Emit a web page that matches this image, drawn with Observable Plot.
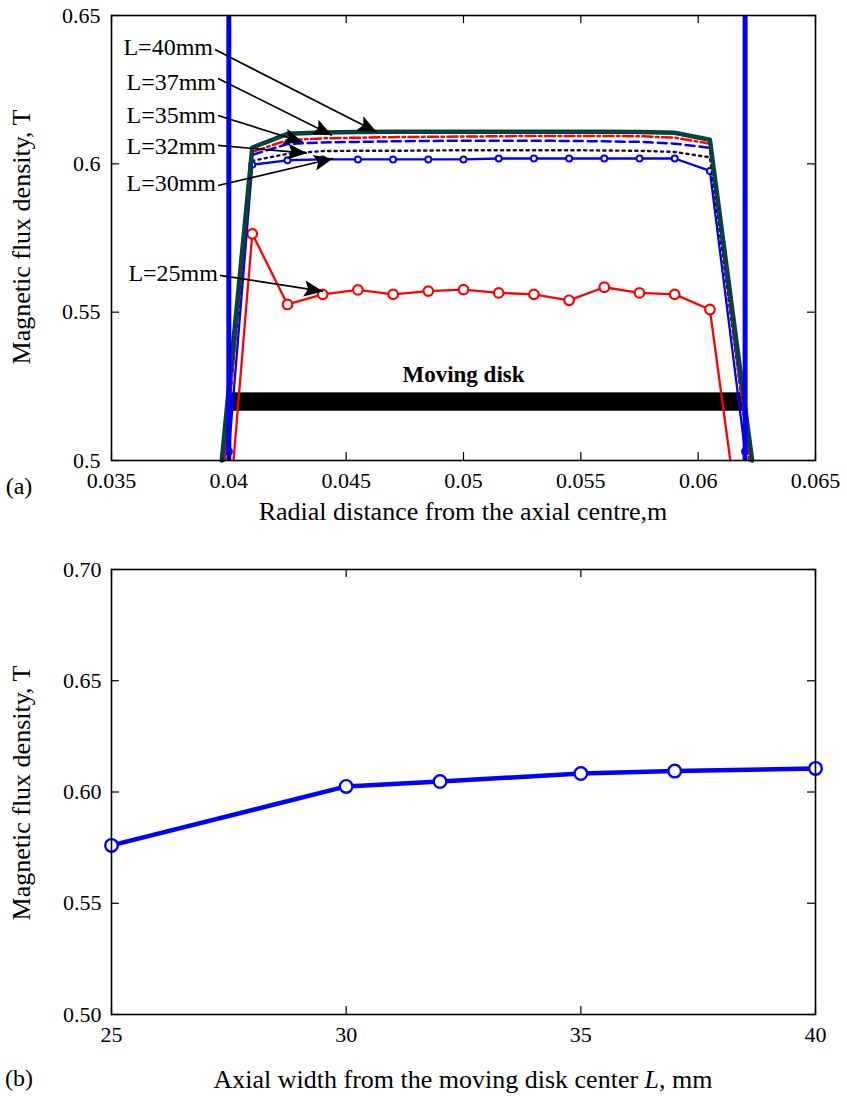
<!DOCTYPE html>
<html><head><meta charset="utf-8">
<script src="https://cdn.jsdelivr.net/npm/d3@7"></script>
<script src="https://cdn.jsdelivr.net/npm/@observablehq/plot@0.6"></script>
<style>
body{margin:0;background:#fff;}
#wrap{position:relative;width:847px;height:1098px;font-family:'Liberation Serif','Times New Roman',serif;color:#000;overflow:hidden;}
#wrap svg text{font-family:'Liberation Serif','Times New Roman',serif !important;}
.t{position:absolute;white-space:nowrap;transform:translate(-50%,-50%);line-height:1;}
.rot{transform:translate(-50%,-50%) rotate(-90deg);}
</style></head><body><div id="wrap"></div>
<script>
// ---------- Panel (a) data ----------
const xTicksA = [0.035, 0.04, 0.045, 0.05, 0.055, 0.06, 0.065];
const xTickLabelsA = ["0.035", "0.04", "0.045", "0.05", "0.055", "0.06", "0.065"];
const yTicksA = [0.5, 0.55, 0.6, 0.65];
const yTickLabelsA = ["0.5", "0.55", "0.6", "0.65"];

const xGrid = [0.041, 0.0425, 0.044, 0.0455, 0.047, 0.0485, 0.05, 0.0515, 0.053, 0.0545, 0.056, 0.0575, 0.059, 0.0605];
const L25 = [0.5764, 0.5526, 0.5560, 0.5575, 0.5560, 0.5571, 0.5576, 0.5565, 0.5560, 0.5540, 0.5584, 0.5565, 0.5560, 0.5509];
const L30 = [0.5997, 0.6012, 0.6015, 0.6015, 0.6015, 0.6015, 0.6015, 0.6018, 0.6018, 0.6018, 0.6018, 0.6018, 0.6018, 0.5976];
const L32 = [0.6010, 0.6034, 0.6043, 0.6044, 0.6044, 0.6045, 0.6046, 0.6046, 0.6046, 0.6046, 0.6045, 0.6044, 0.6040, 0.6022];
const L35 = [0.6030, 0.6067, 0.6072, 0.6074, 0.6076, 0.6077, 0.6078, 0.6078, 0.6078, 0.6077, 0.6076, 0.6074, 0.6068, 0.6054];
const L37 = [0.6040, 0.6080, 0.6086, 0.6088, 0.6090, 0.6091, 0.6092, 0.6093, 0.6094, 0.6094, 0.6094, 0.6093, 0.6088, 0.6068];
const L40 = [0.6055, 0.6101, 0.6106, 0.6107, 0.6108, 0.6108, 0.6108, 0.6108, 0.6108, 0.6108, 0.6108, 0.6107, 0.6105, 0.6081];
// end points of each curve (where the curves leave the plotted range)
const endX25 = [0.0402, 0.06137], endY25 = [0.5, 0.5];
const endX30 = [0.0400, 0.0620], endY30 = [0.503, 0.503];
const endXmid = [0.0398, 0.0622], endYmid = [0.5, 0.5];
const endX40 = [0.0397, 0.0623], endY40 = [0.5, 0.5];

const boundaryX = [0.04, 0.062];          // thick blue vertical lines
const diskX = [0.04, 0.062], diskY = [0.5166, 0.5228];
const diskLabel = "Moving disk", diskLabelX = 0.05, diskLabelY = 0.5288;

const annLabels = ["L=40mm", "L=37mm", "L=35mm", "L=32mm", "L=30mm", "L=25mm"];
const annStartX = [0.03941, 0.03954, 0.03954, 0.03954, 0.03954, 0.03962];
const annStartY = [0.6385, 0.6288, 0.6163, 0.6062, 0.5927, 0.5624];
const annTextY  = [0.6392, 0.6275, 0.6163, 0.6058, 0.5934, 0.5630];
const annTipX   = [0.04630, 0.04439, 0.04316, 0.04332, 0.04444, 0.04402];
const annTipY   = [0.6107, 0.6096, 0.6073, 0.6036, 0.6018, 0.5570];

// ---------- Panel (b) data ----------
const widthL = [25, 30, 32, 35, 37, 40];
const fluxB = [0.576, 0.6025, 0.6047, 0.6083, 0.6094, 0.6106];
const xTicksB = [25, 30, 35, 40];
const xTickLabelsB = ["25", "30", "35", "40"];
const yTicksB = [0.5, 0.55, 0.6, 0.65, 0.7];
const yTickLabelsB = ["0.50", "0.55", "0.60", "0.65", "0.70"];

// ---------- helpers ----------
const wrap = document.getElementById("wrap");
const serif = "'Liberation Serif','Times New Roman',serif";
const lab = (ticks, labels) => { const m = new Map(ticks.map((t, i) => [t, labels[i]])); return d => m.get(d) ?? ""; };
const series = (xs, ys, ex, ey) => [{x: ex[0], y: ey[0]}, ...xs.map((x, i) => ({x, y: ys[i]})), {x: ex[1], y: ey[1]}];
const pts = (xs, ys) => xs.map((x, i) => ({x, y: ys[i]}));

const W = 847;
const A = {top: 0, h: 540, mt: 15, mb: 80, ml: 111, mr: 32, xd: [0.035, 0.065], yd: [0.5, 0.65]};
const B = {top: 540, h: 558, mt: 29, mb: 84, ml: 111, mr: 32, xd: [25, 40], yd: [0.5, 0.7]};
const TL = 8; // inward tick length

function tickMarks(P, xt, yt) {
  const fw = W - P.ml - P.mr, fh = P.h - P.mt - P.mb;
  return [
    Plot.ruleX(xt, {stroke: "black", strokeWidth: 1.2, insetTop: fh - TL}),
    Plot.ruleX(xt, {stroke: "black", strokeWidth: 1.2, insetBottom: fh - TL}),
    Plot.ruleY(yt, {stroke: "black", strokeWidth: 1.2, insetRight: fw - TL}),
    Plot.ruleY(yt, {stroke: "black", strokeWidth: 1.2, insetLeft: fw - TL})
  ];
}

// arrowhead symbol (filled, notched back), tip at origin pointing up
const arrowSym = {draw(ctx) { const L = 19, w = 16; ctx.moveTo(0, 0); ctx.lineTo(-w / 2, L); ctx.lineTo(0, L * 0.8); ctx.lineTo(w / 2, L); ctx.closePath(); }};
const fwA = W - A.ml - A.mr, fhA = A.h - A.mt - A.mb;
const ann = annLabels.map((l, i) => {
  const dx = (annTipX[i] - annStartX[i]) / (A.xd[1] - A.xd[0]) * fwA;
  const dy = -(annTipY[i] - annStartY[i]) / (A.yd[1] - A.yd[0]) * fhA;
  return {label: l, sx: annStartX[i], sy: annStartY[i], ty: annTextY[i], ex: annTipX[i], ey: annTipY[i], rot: Math.atan2(dx, -dy) * 180 / Math.PI};
});

const style = {fontFamily: serif, fontSize: "22px", background: "transparent", color: "black", overflow: "visible"};

// ---------- Panel (a) ----------
const pa = Plot.plot({
  width: W, height: A.h, marginTop: A.mt, marginBottom: A.mb, marginLeft: A.ml, marginRight: A.mr,
  style,
  x: {domain: A.xd, ticks: xTicksA, tickFormat: lab(xTicksA, xTickLabelsA), tickSize: 0, tickPadding: 12, label: null},
  y: {domain: A.yd, ticks: yTicksA, tickFormat: lab(yTicksA, yTickLabelsA), tickSize: 0, tickPadding: 11, label: null},
  marks: [
    Plot.rect([0], {x1: () => diskX[0], x2: () => diskX[1], y1: () => diskY[0], y2: () => diskY[1], fill: "black"}),
    Plot.text([diskLabel], {x: () => diskLabelX, y: () => diskLabelY, text: d => d, fontWeight: "bold", fontSize: 23, fontFamily: serif}),
    Plot.line(series(xGrid, L25, endX25, endY25), {x: "x", y: "y", stroke: "#ff0000", strokeWidth: 2.3}),
    Plot.dot(pts(xGrid, L25), {x: "x", y: "y", r: 4.8, stroke: "#ff0000", strokeWidth: 2.2, fill: "white"}),
    Plot.line(series(xGrid, L30, endX30, endY30), {x: "x", y: "y", stroke: "#0000ff", strokeWidth: 2.3}),
    Plot.dot(series(xGrid, L30, endX30, endY30), {x: "x", y: "y", r: 3, stroke: "#0000ff", strokeWidth: 2, fill: "white"}),
    Plot.line(series(xGrid, L32, endXmid, endYmid), {x: "x", y: "y", stroke: "#10103a", strokeWidth: 2.4, strokeDasharray: "2.2,4.2"}),
    Plot.line(series(xGrid, L35, endXmid, endYmid), {x: "x", y: "y", stroke: "#0000ff", strokeWidth: 2.5, strokeDasharray: "9,5"}),
    Plot.line(series(xGrid, L37, endXmid, endYmid), {x: "x", y: "y", stroke: "#ff0000", strokeWidth: 2.5, strokeDasharray: "10,3.5,2.5,3.5"}),
    Plot.line(series(xGrid, L40, endX40, endY40), {x: "x", y: "y", stroke: "#07423c", strokeWidth: 4.5}),
    Plot.ruleX(boundaryX, {stroke: "#0000ff", strokeWidth: 5}),
    Plot.link(ann, {x1: "sx", y1: "sy", x2: "ex", y2: "ey", stroke: "black", strokeWidth: 1.7}),
    Plot.dot(ann, {x: "ex", y: "ey", symbol: arrowSym, rotate: "rot", fill: "black", stroke: "none"}),
    Plot.text(ann, {x: "sx", y: "ty", text: "label", textAnchor: "end", dx: -2, fontSize: 24, fontFamily: serif}),
    ...tickMarks(A, xTicksA, yTicksA),
    Plot.frame({stroke: "black", strokeWidth: 1.6})
  ]
});
pa.style.position = "absolute"; pa.style.left = "0px"; pa.style.top = A.top + "px";
wrap.appendChild(pa);

// ---------- Panel (b) ----------
const pb = Plot.plot({
  width: W, height: B.h, marginTop: B.mt, marginBottom: B.mb, marginLeft: B.ml, marginRight: B.mr,
  style,
  x: {domain: B.xd, ticks: xTicksB, tickFormat: lab(xTicksB, xTickLabelsB), tickSize: 0, tickPadding: 12, label: null},
  y: {domain: B.yd, ticks: yTicksB, tickFormat: lab(yTicksB, yTickLabelsB), tickSize: 0, tickPadding: 10, label: null},
  marks: [
    Plot.line(pts(widthL, fluxB), {x: "x", y: "y", stroke: "#0000ff", strokeWidth: 4.5}),
    Plot.dot(pts(widthL, fluxB), {x: "x", y: "y", r: 6.3, stroke: "#0000ff", strokeWidth: 2.4, fill: "white"}),
    ...tickMarks(B, xTicksB, yTicksB),
    Plot.frame({stroke: "black", strokeWidth: 1.6})
  ]
});
pb.style.position = "absolute"; pb.style.left = "0px"; pb.style.top = B.top + "px";
wrap.appendChild(pb);

// ---------- titles ----------
function addText(html, x, y, size, cls) {
  const d = document.createElement("div");
  d.className = "t" + (cls ? " " + cls : "");
  d.style.left = x + "px"; d.style.top = y + "px"; d.style.fontSize = size + "px";
  d.innerHTML = html; wrap.appendChild(d);
}
addText("Magnetic flux density, T", 22, 237, 26, "rot");
addText("Radial distance from the axial centre,m", 463, 512, 26);
addText("(a)", 19, 486, 24);
addText("Magnetic flux density, T", 22, 793, 26, "rot");
addText("Axial width from the moving disk center <i>L</i>, mm", 463, 1080, 26);
addText("(b)", 19, 1078, 24);
</script></body></html>
